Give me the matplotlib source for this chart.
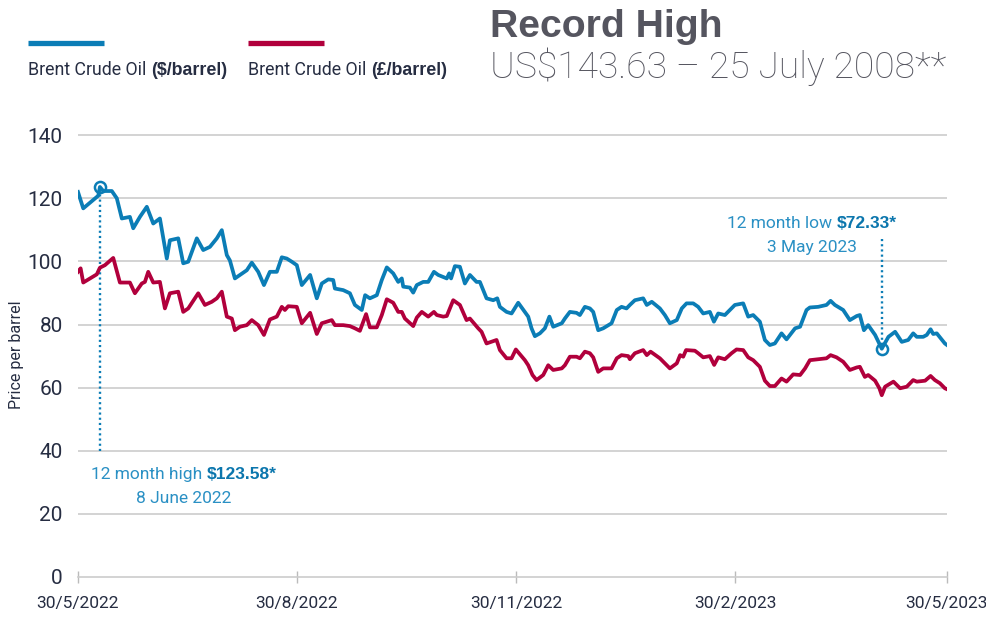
import matplotlib
matplotlib.use("Agg")
import matplotlib.pyplot as plt

# ---------------- data (days since 30/5/2022) ----------------
usd_days = [0, 2.2, 8.5, 9.2, 10.6, 14.2, 16.3, 18.4, 21.8, 23.2, 26.0, 28.9, 31.6, 34.4, 37.3, 38.6,
            42.1, 44.2, 46.3, 49.9, 52.6, 55.4, 58.3, 60.4, 62.5, 63.8, 65.9, 68.0, 70.9, 73.0, 75.7,
            78.1, 80.6, 83.5, 85.6, 87.7, 89.8, 91.9, 94.0, 97.5, 100.3, 102.4, 105.1, 107.2, 107.9,
            111.4, 114.2, 116.3, 119.2, 120.6, 122.6, 125.5, 127.6, 129.7, 132.4, 134.5, 136.0, 136.6,
            139.4, 140.8, 142.3, 145.0, 147.1, 149.5, 151.3, 154.9, 155.9, 156.7, 158.3, 160.4, 162.5,
            164.6, 167.4, 168.8, 171.6, 174.4, 176.1, 177.2, 180.0, 182.1, 184.9, 187.7, 189.1, 190.5,
            191.9, 194.0, 196.1, 198.0, 199.6, 203.2, 204.5, 206.6, 209.4, 210.8, 212.9, 215.0, 216.4,
            218.5, 220.6, 224.1, 226.3, 228.3, 230.4, 231.8, 233.9, 237.4, 238.9, 241.0, 244.4, 246.5,
            248.6, 251.5, 253.6, 255.6, 258.4, 260.5, 262.6, 265.4, 267.1, 268.9, 271.7, 273.8, 275.9,
            279.4, 281.5, 283.6, 286.4, 288.5, 290.6, 292.7, 295.5, 297.6, 301.2, 303.3, 306.0, 307.4,
            310.9, 314.4, 316.1, 317.9, 321.4, 324.2, 327.1, 328.4, 330.1, 331.9, 334.8, 337.6, 340.4,
            343.2, 346.0, 348.7, 350.8, 352.3, 355.0, 356.5, 358.1, 359.2, 360.7, 364.1, 365]
usd_values = [122.0, 116.8, 120.8, 123.58, 122.3, 122.3, 120.0, 113.6, 114.1, 110.5, 114.1, 117.3, 112.0,
              113.6, 100.9, 106.7, 107.3, 99.4, 99.9, 107.3, 103.6, 104.6, 107.3, 109.9, 102.0, 100.3,
              94.6, 95.7, 97.2, 99.6, 96.7, 92.5, 96.7, 96.7, 101.3, 100.9, 99.9, 98.8, 92.5, 95.7, 88.3,
              93.0, 94.3, 94.1, 91.4, 90.9, 89.9, 86.2, 84.6, 89.3, 88.3, 89.3, 94.1, 98.1, 96.2, 93.5,
              94.6, 92.0, 91.7, 90.1, 92.5, 93.5, 93.5, 96.7, 95.7, 94.6, 96.2, 94.6, 98.5, 98.3, 93.0,
              95.7, 93.5, 93.5, 88.3, 87.7, 88.3, 85.6, 84.0, 83.5, 86.9, 84.0, 82.5, 78.8, 76.3, 77.2,
              78.8, 82.5, 79.3, 80.4, 81.9, 84.0, 83.7, 83.0, 85.6, 85.1, 84.0, 78.2, 78.8, 80.4, 84.6,
              85.6, 85.1, 86.2, 87.7, 88.3, 86.2, 87.2, 85.1, 83.0, 80.4, 81.4, 85.1, 86.7, 86.7, 85.6,
              83.5, 84.0, 80.9, 83.5, 83.0, 84.6, 86.2, 86.7, 82.5, 83.0, 80.9, 75.1, 73.5, 74.0, 77.2,
              75.3, 78.8, 79.3, 84.6, 85.4, 85.6, 86.2, 87.5, 86.2, 84.6, 81.4, 82.7, 83.0, 78.2, 79.8,
              76.7, 72.33, 76.1, 77.7, 74.5, 75.1, 77.2, 76.1, 76.1, 76.7, 78.5, 77.0, 77.2, 74.0, 73.5]

gbp_days = [0, 1.1, 2.2, 7.9, 9.2, 11.3, 14.8, 17.6, 21.8, 23.9, 26.8, 28.1, 29.5, 31.6, 34.4, 36.5,
            38.6, 42.1, 44.2, 46.3, 50.5, 53.3, 56.2, 58.3, 60.4, 62.5, 64.6, 65.9, 68.0, 70.9, 73.0,
            75.7, 78.1, 80.6, 83.5, 85.6, 86.9, 88.3, 91.9, 94.0, 97.5, 100.3, 102.4, 106.6, 107.9,
            111.4, 114.2, 116.3, 118.4, 121.0, 122.6, 125.5, 127.6, 129.7, 132.4, 134.5, 136.0, 137.3,
            140.8, 142.3, 144.4, 147.1, 149.5, 150.7, 153.4, 154.9, 157.6, 160.4, 163.2, 164.6, 168.1,
            169.5, 171.6, 175.8, 177.2, 180.0, 182.1, 183.9, 187.7, 189.1, 190.9, 192.6, 195.4, 197.5,
            199.6, 203.2, 204.5, 206.6, 209.4, 210.8, 212.9, 215.0, 216.4, 218.5, 220.6, 224.1, 226.3,
            228.3, 231.1, 231.8, 233.9, 237.4, 238.9, 240.5, 244.4, 246.5, 248.6, 251.5, 252.9, 254.2,
            255.4, 259.1, 260.5, 262.6, 265.4, 267.2, 268.9, 271.7, 274.5, 276.6, 279.4, 281.5, 283.6,
            286.4, 288.5, 290.6, 292.7, 295.5, 297.6, 300.4, 303.3, 305.4, 307.4, 310.9, 314.4, 316.1,
            318.6, 321.4, 324.2, 327.1, 328.4, 330.5, 331.9, 334.8, 336.6, 337.6, 339.0, 342.5, 345.3,
            348.1, 350.8, 352.3, 355.8, 358.1, 359.9, 362.0, 364.1, 365]
gbp_values = [96.7, 97.8, 93.3, 95.9, 98.0, 98.8, 101.1, 93.3, 93.3, 89.9, 93.0, 93.5, 96.7, 93.3, 93.5,
              85.1, 89.9, 90.4, 84.0, 85.1, 89.9, 86.2, 87.2, 88.3, 90.4, 82.5, 81.9, 78.2, 79.3, 79.8,
              81.4, 79.8, 76.7, 81.6, 82.5, 85.6, 84.6, 85.8, 85.6, 80.4, 83.7, 77.0, 80.4, 81.4, 79.8,
              79.8, 79.5, 78.8, 78.0, 83.3, 79.1, 79.1, 83.0, 88.0, 86.9, 84.0, 84.0, 81.9, 79.5, 82.2,
              84.0, 82.5, 84.0, 83.0, 82.5, 82.7, 87.7, 86.2, 81.4, 81.9, 78.8, 77.7, 74.0, 75.1, 71.9,
              69.3, 69.3, 72.1, 68.7, 67.1, 64.0, 62.4, 64.0, 67.1, 65.6, 66.1, 67.1, 69.8, 69.8, 69.3,
              71.4, 70.9, 69.6, 65.0, 66.1, 66.1, 69.3, 70.3, 70.0, 69.0, 70.9, 71.9, 70.3, 71.4, 69.3,
              67.7, 66.1, 67.7, 70.3, 69.8, 71.9, 71.7, 70.9, 69.6, 70.0, 67.2, 69.6, 69.0, 70.9, 72.1,
              71.9, 69.6, 68.7, 66.6, 62.2, 60.5, 60.5, 62.9, 61.9, 64.2, 64.0, 66.1, 68.7, 69.0, 69.3,
              70.3, 69.6, 68.2, 65.6, 66.4, 66.6, 63.4, 64.0, 62.2, 59.8, 57.6, 60.3, 61.9, 59.8, 60.3,
              62.4, 61.9, 62.2, 63.7, 62.4, 61.4, 59.8, 59.5]

tick_days = [0, 92, 184, 276, 365]
tick_labels = ["30/5/2022", "30/8/2022", "30/11/2022", "30/2/2023", "30/5/2023"]
y_ticks = [0, 20, 40, 60, 80, 100, 120, 140]

high_day, high_value = 9.2, 123.58
low_day, low_value = 337.6, 72.33

# ---------------- style ----------------
BLUE = "#0b7db6"
RED = "#b1003c"
ANN_LIGHT = "#2a90c4"
ANN_DARK = "#0b76ad"
GRID = "#cccccc"
DARK = "#262d42"
TITLE = "#55555f"
BASE_FONT = ["Roboto", "DejaVu Sans"]
BOLD_FONT = ["Liberation Sans", "DejaVu Sans"]

W, H = 987, 619
fig = plt.figure(figsize=(W / 100, H / 100), dpi=100)

def fx(px):
    return px / W

def fy(py):
    return 1 - py / H

ax_left, ax_right, ax_top_px, ax_bot_px = 78, 947, 132, 577
ax = fig.add_axes([fx(ax_left), fy(ax_bot_px), (ax_right - ax_left) / W, (ax_bot_px - ax_top_px) / H])
ax.set_xlim(0, 365)
ax.set_ylim(0, 141)

for v in y_ticks[1:]:
    ax.axhline(v, color=GRID, lw=1.2, zorder=1)

ax.plot(usd_days, usd_values, color=BLUE, lw=2.7, solid_joinstyle="round", zorder=3)
ax.plot(gbp_days, gbp_values, color=RED, lw=2.7, solid_joinstyle="round", zorder=3)

for s in ["top", "right", "left"]:
    ax.spines[s].set_visible(False)
ax.spines["bottom"].set_color(GRID)
ax.spines["bottom"].set_linewidth(1.2)

ax.set_yticks(y_ticks)
ax.set_yticklabels([str(v) for v in y_ticks])
ax.tick_params(axis="y", length=0, pad=11, labelsize=15, labelcolor=DARK)
ax.set_xticks(tick_days)
ax.set_xticklabels(tick_labels)
ax.tick_params(axis="x", direction="inout", length=8, width=1, color="#bbbbbb",
               labelsize=12.5, labelcolor=DARK, pad=10)
for lab in ax.get_yticklabels() + ax.get_xticklabels():
    lab.set_family(BASE_FONT)
    lab.set_fontweight("normal")

ax.set_ylabel("Price per barrel", fontsize=11.5, color=DARK, family=BASE_FONT)
ax.yaxis.set_label_coords(-0.062, 0.5)

# markers and dotted leaders
ax.plot([high_day, high_day], [40, high_value], color=BLUE, lw=1.7, ls=(0, (0.9, 1.3)), zorder=2)
ax.plot([low_day, low_day], [107, low_value], color=BLUE, lw=1.7, ls=(0, (0.9, 1.3)), zorder=2)
ax.plot([high_day], [high_value], marker="o", ms=8, mfc="none", mec=BLUE, mew=1.8, zorder=4)
ax.plot([low_day], [low_value], marker="o", ms=8, mfc="none", mec=BLUE, mew=1.8, zorder=4)

fig.canvas.draw()
renderer = fig.canvas.get_renderer()

def two_part(x_center_px, base_px, t1, t2, c1, c2, size, f1, w1, f2, w2, x_left_px=None):
    a = fig.text(0, fy(base_px), t1, color=c1, fontsize=size, family=f1, fontweight=w1, va="baseline")
    b = fig.text(0, fy(base_px), t2, color=c2, fontsize=size, family=f2, fontweight=w2, va="baseline")
    wa = a.get_window_extent(renderer).width
    wb = b.get_window_extent(renderer).width
    total = wa + wb
    x0 = x_center_px - total / 2 if x_left_px is None else x_left_px
    a.set_x(fx(x0))
    b.set_x(fx(x0 + wa))

# annotations
two_part(184, 479, "12 month high ", "$123.58*", ANN_LIGHT, ANN_DARK, 12.5,
         BASE_FONT, "normal", BOLD_FONT, "bold")
fig.text(fx(184), fy(503), "8 June 2022", color=ANN_LIGHT, fontsize=12.5, family=BASE_FONT,
         ha="center", va="baseline")
two_part(812, 228, "12 month low ", "$72.33*", ANN_LIGHT, ANN_DARK, 12.5,
         BASE_FONT, "normal", BOLD_FONT, "bold")
fig.text(fx(812), fy(252), "3 May 2023", color=ANN_LIGHT, fontsize=12.5, family=BASE_FONT,
         ha="center", va="baseline")

# legend
fig.add_artist(plt.Line2D([fx(28), fx(104)], [fy(43), fy(43)], color=BLUE, lw=3.8, solid_capstyle="butt"))
fig.add_artist(plt.Line2D([fx(248), fx(324)], [fy(43), fy(43)], color=RED, lw=3.8, solid_capstyle="butt"))
two_part(0, 75, "Brent Crude Oil ", "($/barrel)", DARK, DARK, 12.8,
         BASE_FONT, "normal", BOLD_FONT, "bold", x_left_px=28)
two_part(0, 75, "Brent Crude Oil ", "(£/barrel)", DARK, DARK, 12.8,
         BASE_FONT, "normal", BOLD_FONT, "bold", x_left_px=248)

# title
fig.text(fx(490), fy(37), "Record High", color=TITLE, fontsize=28.3, family=BOLD_FONT,
         fontweight="bold", va="baseline")
fig.text(fx(490), fy(78), "US$143.63 \u2013 25 July 2008**", color=TITLE, fontsize=26.8,
         family=BASE_FONT, fontweight="light", va="baseline")

fig.savefig("out.png", dpi=100)
